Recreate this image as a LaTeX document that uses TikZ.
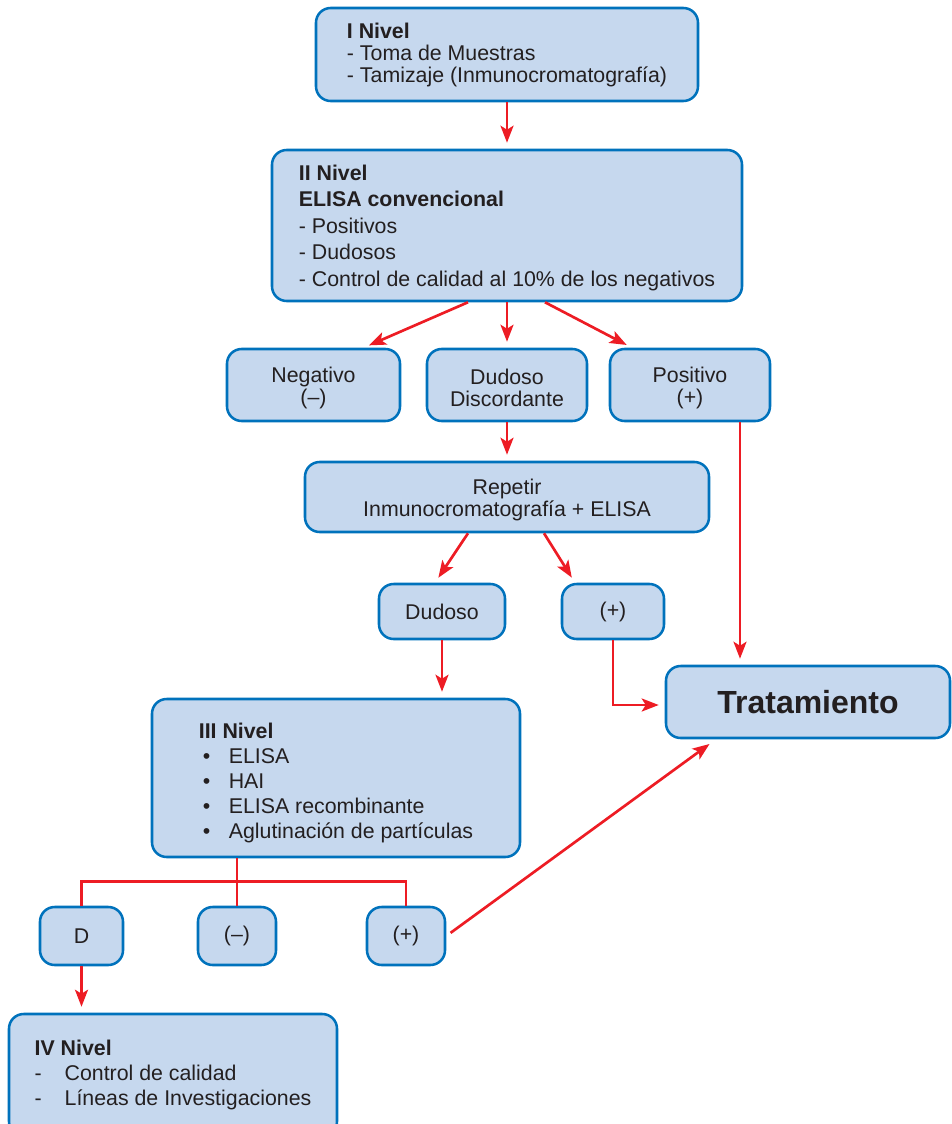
\documentclass[tikz,border=0pt]{standalone}
\usepackage{fontspec}
\setmainfont{Liberation Sans}
\usetikzlibrary{calc,arrows.meta}
\definecolor{borde}{RGB}{0,114,188}
\definecolor{relleno}{RGB}{198,216,238}
\definecolor{rojo}{RGB}{237,28,36}
\definecolor{texto}{RGB}{35,31,32}
\newcommand\alto[1]{\rule{0pt}{#1}}

\begin{document}
\begin{tikzpicture}[x=0.75pt,y=-0.75pt,
        caja/.style={draw=borde,fill=relleno,line width=1.9pt,rounded corners=11pt,
            inner sep=0pt,text=texto,align=center,font=\fontsize{16}{16.5}\selectfont},
        flecha/.style={draw=rojo,line width=2pt,shorten >=4.5pt,
            -{Stealth[length=12.75pt,width=9.75pt,inset=3pt]}},
        linea/.style={draw=rojo,line width=2pt}]
        \useasboundingbox (0,0) rectangle (952,1124);
        \clip (0,0) rectangle (952,1124);
        \node[caja,align=left,minimum width=286.5pt,minimum height=69.75pt] (N1) at (507,54.5)
            {\textbf{I Nivel}\\- Toma de Muestras\\- Tamizaje (Inmunocromatografía)};
        \node[caja,align=left,minimum width=352.5pt,minimum height=113.25pt,
            font=\fontsize{16}{19.9}\selectfont] (N2) at (507,225.5)
            {\alto{15pt}\textbf{II Nivel}\\\textbf{ELISA convencional}\\- Positivos\\- Dudosos\\- Control de calidad al 10\% de los negativos};
        \node[caja,minimum width=129.75pt,minimum height=54pt] (neg) at (313.5,385) {\alto{16pt}Negativo\\(–)};
        \node[caja,minimum width=120pt,minimum height=54pt] (dd) at (507,385) {\alto{16pt}Dudoso\\Discordante};
        \node[caja,minimum width=120pt,minimum height=54pt] (pos) at (690,385) {\alto{16pt}Positivo\\(+)};
        \node[caja,minimum width=303pt,minimum height=52.5pt,font=\fontsize{16}{16}\selectfont] (rep) at (507,497)
            {\alto{16pt}Repetir\\Inmunocromatografía + ELISA};
        \node[caja,minimum width=94.5pt,minimum height=41.25pt] (dud) at (442,611.5) {Dudoso};
        \node[caja,minimum width=76.5pt,minimum height=41.25pt] (mas) at (613,611.5) {(+)};
        \node[caja,minimum width=213pt,minimum height=54pt,font=\fontsize{24}{28}\selectfont\bfseries] (trat) at (808,702) {Tratamiento};
        \node[caja,align=left,minimum width=276pt,minimum height=118.5pt,
            font=\fontsize{16}{18.75}\selectfont] (N3) at (336,778)
            {\alto{19pt}\textbf{III Nivel}\\
             \hbox to 22.5pt{\hspace{3pt}•\hfil}ELISA\\
             \hbox to 22.5pt{\hspace{3pt}•\hfil}HAI\\
             \hbox to 22.5pt{\hspace{3pt}•\hfil}ELISA recombinante\\
             \hbox to 22.5pt{\hspace{3pt}•\hfil}Aglutinación de partículas};
        \node[caja,minimum width=62.25pt,minimum height=43.5pt] (d) at (81.5,936) {D};
        \node[caja,minimum width=58.5pt,minimum height=43.5pt] (menos) at (237,936) {(–)};
        \node[caja,minimum width=58.5pt,minimum height=43.5pt] (masB) at (406,936) {(+)};
        \node[caja,align=left,minimum width=246pt,minimum height=91.5pt,
            font=\fontsize{16}{18.75}\selectfont] (N4) at (173,1075)
            {\textbf{IV Nivel}\\
             \hbox to 22.5pt{-\hfil}Control de calidad\\
             \hbox to 22.5pt{-\hfil}Líneas de Investigaciones};
        \draw[flecha] (N1.south) -- (N2.north);
        \draw[flecha] ($(N2.south)+(-39,0)$) -- ($(neg.north)+(50,0)$);
        \draw[flecha] (N2.south) -- (dd.north);
        \draw[flecha] ($(N2.south)+(38,0)$) -- ($(pos.north)+(-58,0)$);
        \draw[flecha] (dd.south) -- (rep.north);
        \coordinate (p1) at ($(pos.south)+(50,0)$);
        \draw[flecha] (p1) -- (p1 |- trat.north);
        \draw[flecha] ($(rep.south)+(-39,0)$) -- ($(dud.north)+(-7,0)$);
        \draw[flecha] ($(rep.south)+(37,0)$) -- ($(mas.north)+(-38,0)$);
        \draw[flecha] (dud.south) -- (dud.south |- N3.north);
        \draw[flecha] (mas.south) |- ($(trat.west)+(0,3)$);
        \draw[linea] (N3.south -| menos.north) -- (menos.north);
        \draw[linea] (d.north) -- ++(0,-24) -| (masB.north);
        \draw[flecha,shorten <=4pt,shorten >=6pt] (masB.east) -- ($(trat.south)+(-92,0)$);
        \draw[flecha] (d.south) -- (d.south |- N4.north);
    \end{tikzpicture}
\end{document}
